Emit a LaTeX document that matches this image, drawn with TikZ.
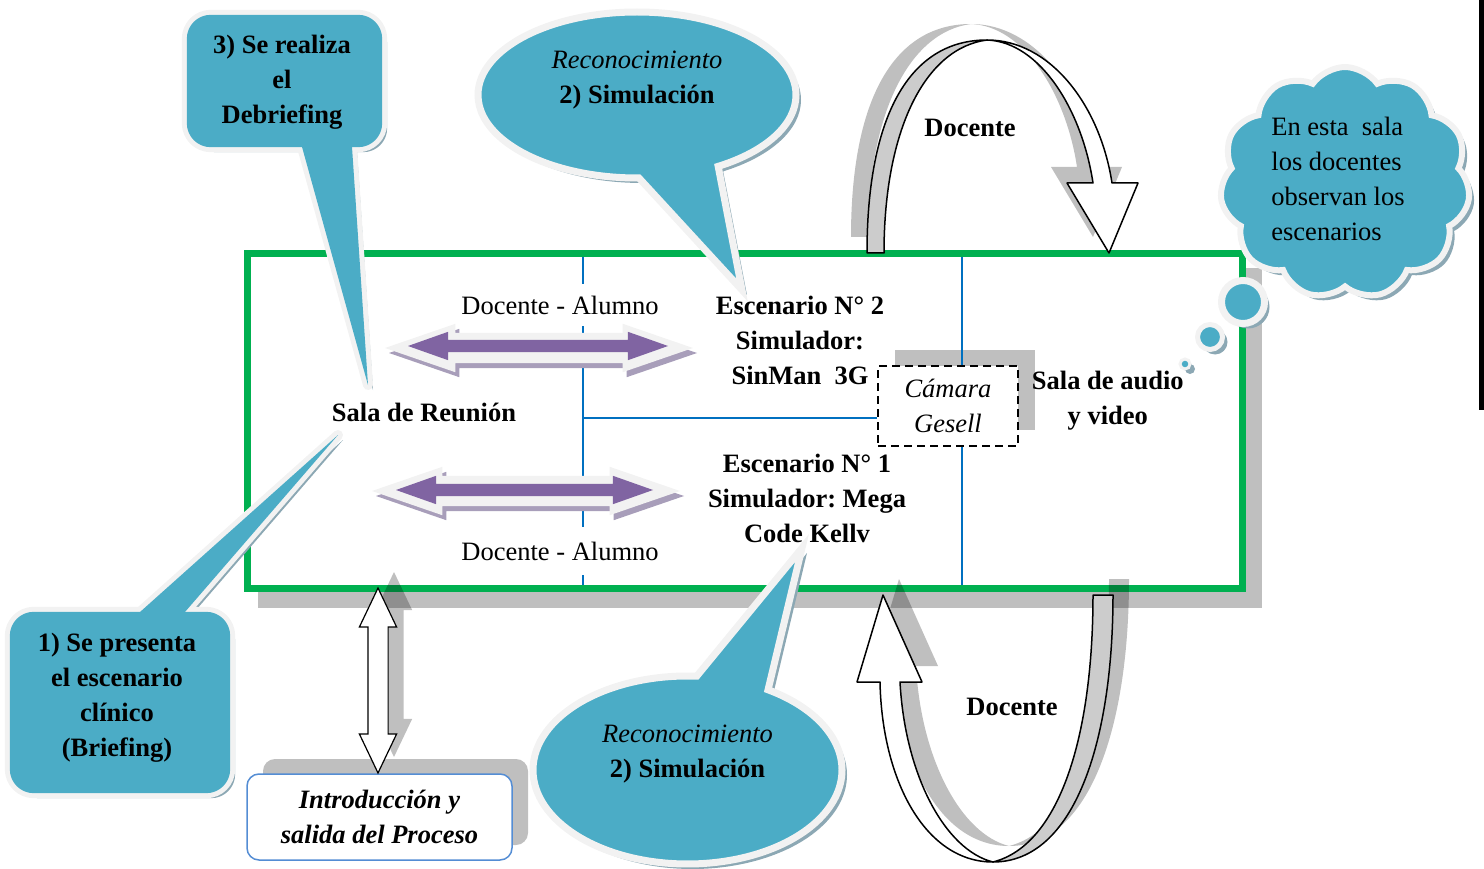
\documentclass[tikz,border=0pt]{standalone}
\usepackage{fontspec}
\setmainfont{Liberation Serif}
\usepackage{tikz}
\usetikzlibrary{positioning}
\usetikzlibrary{shapes.arrows}
\usetikzlibrary{shapes.callouts}
\usetikzlibrary{shapes.symbols}
\usetikzlibrary{shadows}
\frenchspacing

\definecolor{roomgreen}{RGB}{0,176,80}
\definecolor{wireblue}{RGB}{0,112,192}
\definecolor{bubbleteal}{RGB}{75,172,198}
\definecolor{bubblerim}{RGB}{242,242,242}
\definecolor{bubbleshade}{RGB}{140,168,180}
\definecolor{arrowpurple}{RGB}{128,100,162}
\definecolor{purpleshade}{RGB}{168,158,186}
\definecolor{shadegray}{RGB}{191,191,191}
\definecolor{backgray}{RGB}{204,204,204}
\definecolor{introblue}{RGB}{84,141,212}

\begin{document}
\begin{tikzpicture}[
x=1pt, y=-1pt,
every node/.style={font=\fontsize{26.5}{35}\selectfont},
lbl/.style={align=center, inner sep=1pt},
blbl/.style={lbl, font=\fontsize{26.5}{35}\selectfont\bfseries},
ilbl/.style={lbl, font=\fontsize{26.5}{35}\selectfont\itshape},
bubble/.style={fill=bubbleteal, draw=bubblerim, line width=7pt,
  drop shadow={shadow xshift=5pt, shadow yshift=-5pt, fill=bubbleshade, opacity=1}},
rim/.style={fill=bubblerim, draw=bubblerim, line width=10pt, line join=round},
wire/.style={wireblue, line width=2.5pt},
dblarrow/.style={double arrow, inner xsep=0pt, minimum height=#1},
twist/.style={draw=black, line width=1.5pt, line join=round},
twistshade/.style={fill=black, opacity=.25}
]

\useasboundingbox (0,0) rectangle (1484,869);

% room frame and its shadow
\coordinate (roomNW) at (247,254);
\coordinate (roomSE) at (1242,588);
\draw[shadegray, line width=16pt] (258,600) -- (1254,600) -- (1254,268);

% camara gesell
\node[ilbl, draw, dash pattern=on 8pt off 5pt, line width=1.5pt, fill=white,
  minimum width=140pt, minimum height=80pt,
  drop shadow={shadow xshift=17pt, shadow yshift=16pt, fill=shadegray, opacity=1}]
  (camara) at (948,406) {Cámara\\Gesell};

% wires
\coordinate (split) at (583,418);
\coordinate (riser) at (962,406);
\draw[wire] (split |- roomNW) -- (split |- roomSE);
\draw[wire] (split) -- (split -| camara.west);
\draw[wire] (riser |- camara.north) -- (riser |- roomNW);
\draw[wire] (riser |- camara.south) -- (riser |- roomSE);

\draw[roomgreen, line width=7pt] (roomNW) rectangle (roomSE);

% labels
\node[blbl] (reunion) at (424,412) {Sala de Reunión};
\node[lbl, fill=white, inner ysep=12pt] (pairTop) at (560,305) {Docente - Alumno};
\node[lbl, fill=white, inner ysep=15pt] (pairBot) at (560,551) {Docente - Alumno};
\node[blbl] (esc2) at (800,340) {Escenario N° 2\\Simulador:\\SinMan~ 3G};
\node[blbl] (esc1) at (807,498) {Escenario N° 1\\Simulador: Mega\\Code Kellv};
\node[blbl, right=12pt of camara, yshift=5pt] (audio) {Sala de audio\\y video};

% purple double arrows
\node[dblarrow=308pt, fill=bubblerim, inner ysep=15pt, double arrow head extend=9pt,
  double arrow tip angle=38,
  drop shadow={shadow xshift=4pt, shadow yshift=-5pt, fill=purpleshade, opacity=1}]
  (linkTopRim) at (539,348) {};
\node[dblarrow=260pt, fill=arrowpurple, inner ysep=6pt, double arrow head extend=8pt,
  double arrow tip angle=39] (linkTop) at (538,346) {};
\node[dblarrow=308pt, fill=bubblerim, inner ysep=15pt, double arrow head extend=9pt,
  double arrow tip angle=38,
  drop shadow={shadow xshift=4pt, shadow yshift=-5pt, fill=purpleshade, opacity=1}]
  (linkBotRim) at (526,491) {};
\node[dblarrow=257pt, fill=arrowpurple, inner ysep=6pt, double arrow head extend=8pt,
  double arrow tip angle=39] (linkBot) at (524.5,490) {};

% 3) debriefing callout
\node[minimum width=195pt, minimum height=132pt] (debrief) at (284.5,81) {};
\coordinate (debTip) at (368,385);
\fill[bubbleshade, rounded corners=24pt] ([shift={(5,5)}]debrief.north west) rectangle ([shift={(5,5)}]debrief.south east);
\fill[bubbleshade] (307,152) -- (373,390) -- (357,152) -- cycle;
\draw[rim, rounded corners=24pt] (debrief.north west) rectangle (debrief.south east);
\draw[rim] (302,147) -- (debTip) -- (352,147) -- cycle;
\fill[bubbleteal, rounded corners=24pt] (debrief.north west) rectangle (debrief.south east);
\fill[bubbleteal] (298.7,135) -- (debTip) -- (351.2,135) -- cycle;
\node[blbl] (debriefText) at (282,82) {3) Se realiza\\el\\Debriefing};

% 1) briefing callout
\node[minimum width=220pt, minimum height=181pt] (brief) at (120,702.5) {};
\coordinate (briefTip) at (338,435);
\fill[bubbleshade, rounded corners=24pt] ([shift={(5,5)}]brief.north west) rectangle ([shift={(5,5)}]brief.south east);
\fill[bubbleshade] (145,617) -- (343,440) -- (190,617) -- cycle;
\draw[rim, rounded corners=24pt] (brief.north west) rectangle (brief.south east);
\draw[rim] (140,612) -- (briefTip) -- (185,612) -- cycle;
\fill[bubbleteal, rounded corners=24pt] (brief.north west) rectangle (brief.south east);
\fill[bubbleteal] (126.6,624) -- (briefTip) -- (174.6,624) -- cycle;
\node[blbl] (briefText) at (117,697.5) {1) Se presenta\\el escenario\\clínico\\(Briefing)};

% 2) simulation callouts
\node[ellipse callout, bubble, minimum width=318pt, minimum height=166pt,
  callout absolute pointer={(742,290)}, callout pointer arc=30] (simTop) at (637,95) {};
\node[lbl] (simTopText) at ([yshift=15pt]simTop.center) {\textit{Reconocimiento}\\\textbf{2) Simulación}};
\node[ellipse callout, bubble, minimum width=309pt, minimum height=188pt,
  callout absolute pointer={(802,548)}, callout pointer arc=28] (simBot) at (687.5,770) {};
\node[lbl] (simBotText) at ([yshift=15.5pt]simBot.center) {\textit{Reconocimiento}\\\textbf{2) Simulación}};

% docente loop, top
\fill[twistshade, shift={(-16,-16)}] (867,253) .. controls (867,115) and (910,40) .. (987,40)
  .. controls (1050,40) and (1100,105) .. (1112,183) -- (1138,183) -- (1109,253) -- (1067,183) -- (1093,183)
  .. controls (1082,110) and (1040,42) .. (987,40) .. controls (925,48) and (884,130) .. (884,253) -- cycle;
\filldraw[twist, fill=backgray] (867,253) .. controls (867,115) and (910,40) .. (987,40)
  .. controls (925,48) and (884,130) .. (884,253) -- cycle;
\filldraw[twist, fill=white] (987,40) .. controls (1050,40) and (1100,105) .. (1112,183)
  -- (1138,183) -- (1109,253) -- (1067,183) -- (1093,183)
  .. controls (1082,110) and (1040,42) .. (987,40) -- cycle;
\node[blbl] (docTop) at (970,128) {Docente};

% docente loop, bottom
\fill[twistshade, shift={(16,-16)}] (1113,595) .. controls (1113,740) and (1075,862) .. (993,862)
  .. controls (925,862) and (882,780) .. (880,682) -- (857,682) -- (883,595) -- (922,682) -- (900,682)
  .. controls (905,775) and (945,850) .. (993,862) .. controls (1060,845) and (1093,735) .. (1093,595) -- cycle;
\filldraw[twist, fill=backgray] (1113,595) .. controls (1113,740) and (1075,862) .. (993,862)
  .. controls (1060,845) and (1093,735) .. (1093,595) -- cycle;
\filldraw[twist, fill=white] (993,862) .. controls (925,862) and (882,780) .. (880,682)
  -- (857,682) -- (883,595) -- (922,682) -- (900,682)
  .. controls (905,775) and (945,850) .. (993,862) -- cycle;
\node[blbl] (docBot) at (1012,707) {Docente};

% entry and exit
\node[lbl, font=\fontsize{26.5}{35}\selectfont\bfseries\itshape, draw=introblue, line width=1.5pt,
  fill=white, rounded corners=12pt, minimum width=265pt, minimum height=86pt,
  drop shadow={shadow xshift=16pt, shadow yshift=15pt, fill=shadegray, opacity=1}]
  (intro) at (379.5,817) {Introducción y\\salida del Proceso};
\node[dblarrow=185pt, rotate=90, fill=black, opacity=.25, inner ysep=9.5pt,
  double arrow head extend=8.5pt, double arrow tip angle=51] (passShade) at (394,664.5) {};
\node[dblarrow=185pt, rotate=90, fill=white, draw=black, line width=1.2pt, inner ysep=9.5pt,
  double arrow head extend=8.5pt, double arrow tip angle=51] (pass) at (378,680.5) {};

% thought cloud
\node[cloud, cloud puffs=11, cloud puff arc=110, cloud ignores aspect, bubble, line width=6pt,
  minimum width=250pt, minimum height=232pt] (note) at (1345,183) {};
\node[lbl, align=left] (noteText) at (1338,179) {En esta~ sala\\los docentes\\observan los\\escenarios};
\node[circle, bubble, line width=7pt, minimum size=43pt, inner sep=0pt] (thinkA) at (1243,302) {};
\node[circle, bubble, line width=5pt, minimum size=25pt, inner sep=0pt] (thinkB) at (1210,337) {};
\node[circle, bubble, line width=3pt, minimum size=10pt, inner sep=0pt,
  drop shadow={shadow xshift=2pt, shadow yshift=-2pt, fill=bubbleshade, opacity=1}] (thinkC) at (1185,364) {};

% page edge
\fill[black] (1479,0) rectangle (1484,410);
\end{tikzpicture}
\end{document}
